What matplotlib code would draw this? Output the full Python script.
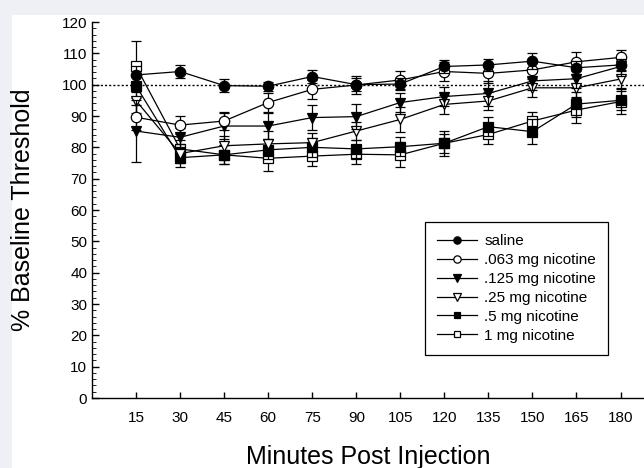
import numpy as np
import matplotlib
matplotlib.use("Agg")
from matplotlib import pyplot as plt
from matplotlib.patches import Rectangle
from matplotlib.lines import Line2D
from matplotlib.ticker import MultipleLocator

plt.rcParams['font.family'] = ['Liberation Sans', 'DejaVu Sans']

minuti = [15, 30, 45, 60, 75, 90, 105, 120, 135, 150, 165, 180]

saline = [103.1, 104.2, 99.7, 99.5, 102.6, 100.0, 100.2, 105.8, 106.3, 107.5, 105.4, 106.3]
saline_err = [3, 2, 2, 1.5, 2, 2, 2, 2, 2, 2.5, 2, 2]

nic063 = [89.6, 87.1, 88.4, 94.3, 98.5, 99.9, 101.5, 104.2, 103.6, 104.7, 107.3, 108.7]
nic063_err = [4, 3, 3, 3, 3, 3, 3, 3, 3, 3, 3, 2.5]

nic125 = [85.2, 83.2, 86.8, 86.8, 89.5, 89.8, 94.3, 96.2, 97.2, 101.2, 101.9, 105.8]
nic125_err = [10, 3, 4, 4, 4, 4, 3, 3, 4, 3, 3, 3]

nic25 = [94.9, 78.0, 80.5, 81.1, 81.5, 85.2, 88.9, 93.7, 94.8, 99.0, 99.0, 101.8]
nic25_err = [4, 3, 3, 4, 3, 3, 4, 3, 3, 3, 3, 3]

nic5 = [99.6, 76.7, 77.6, 79.2, 80.0, 79.5, 80.2, 81.3, 86.6, 85.0, 93.8, 95.0]
nic5_err = [4, 3, 3, 3, 3, 3, 3, 3, 3, 4, 4, 3]

nic1 = [105.8, 79.5, 77.6, 76.5, 77.2, 77.8, 77.6, 81.3, 84.1, 88.4, 91.9, 94.6]
nic1_err = [8, 3, 3, 4, 3, 3, 4, 4, 3, 3, 4, 4]

etichette = ['saline', '.063 mg nicotine', '.125 mg nicotine',
             '.25 mg nicotine', '.5 mg nicotine', '1 mg nicotine']

serie = [saline, nic063, nic125, nic25, nic5, nic1]
errori = [saline_err, nic063_err, nic125_err, nic25_err, nic5_err, nic1_err]
marcatori = ['o', 'o', 'v', 'v', 's', 's']
riempimento = ['black', 'white', 'black', 'white', 'black', 'white']
dimensioni = [7.5, 7.5, 7.5, 7.5, 6.5, 6.5]

fig = plt.figure(figsize=(6.44, 4.68), dpi=100)
fig.patch.set_facecolor('#eff0f5')
fig.patches.append(Rectangle((12 / 644, 0), 1, 1 - 15 / 468, transform=fig.transFigure,
                             facecolor='white', edgecolor='none', zorder=-10))

ax = fig.add_axes([92 / 644, 70 / 468, 552 / 644, 376 / 468])
ax.set_facecolor('none')

ax.axhline(100, color='black', linestyle=(0, (1.5, 1.5)), linewidth=1, zorder=1)

maniglie = []
for k in range(len(serie)):
    ax.errorbar(minuti, serie[k], yerr=errori[k], color='black', linewidth=0.9,
                elinewidth=0.9, capsize=3.5, capthick=0.9,
                marker=marcatori[k], markersize=dimensioni[k],
                markerfacecolor=riempimento[k], markeredgecolor='black',
                markeredgewidth=0.9, zorder=10 - k, clip_on=False)
    maniglie.append(Line2D([], [], color='black', linewidth=0.9,
                           marker=marcatori[k], markersize=dimensioni[k] * 0.7,
                           markerfacecolor=riempimento[k], markeredgecolor='black',
                           markeredgewidth=0.9))

ax.set_xlim(0, 188)
ax.set_ylim(0, 120)
ax.set_xticks(minuti)
ax.yaxis.set_major_locator(MultipleLocator(10))
ax.yaxis.set_minor_locator(MultipleLocator(2))
ax.tick_params(axis='both', direction='in', labelsize=11, width=1, color='black')
ax.tick_params(axis='y', which='major', length=5)
ax.tick_params(axis='y', which='minor', length=3, direction='in')
ax.tick_params(axis='x', length=4, pad=9)

for lato in ['top', 'right']:
    ax.spines[lato].set_visible(False)
for lato in ['left', 'bottom']:
    ax.spines[lato].set_linewidth(1)

ax.set_xlabel('Minutes Post Injection', fontsize=18, labelpad=15)
ax.set_ylabel('% Baseline Threshold', fontsize=18, labelpad=19)

leg = ax.legend(maniglie, etichette, loc='upper left', bbox_to_anchor=(0.603, 0.468),
                borderaxespad=0, fontsize=11, fancybox=False, edgecolor='black',
                framealpha=1, handlelength=2.6, handletextpad=0.5,
                labelspacing=0.32, borderpad=0.8)
leg.get_frame().set_linewidth(0.9)

fig.savefig('out.png', dpi=100, facecolor=fig.get_facecolor())
